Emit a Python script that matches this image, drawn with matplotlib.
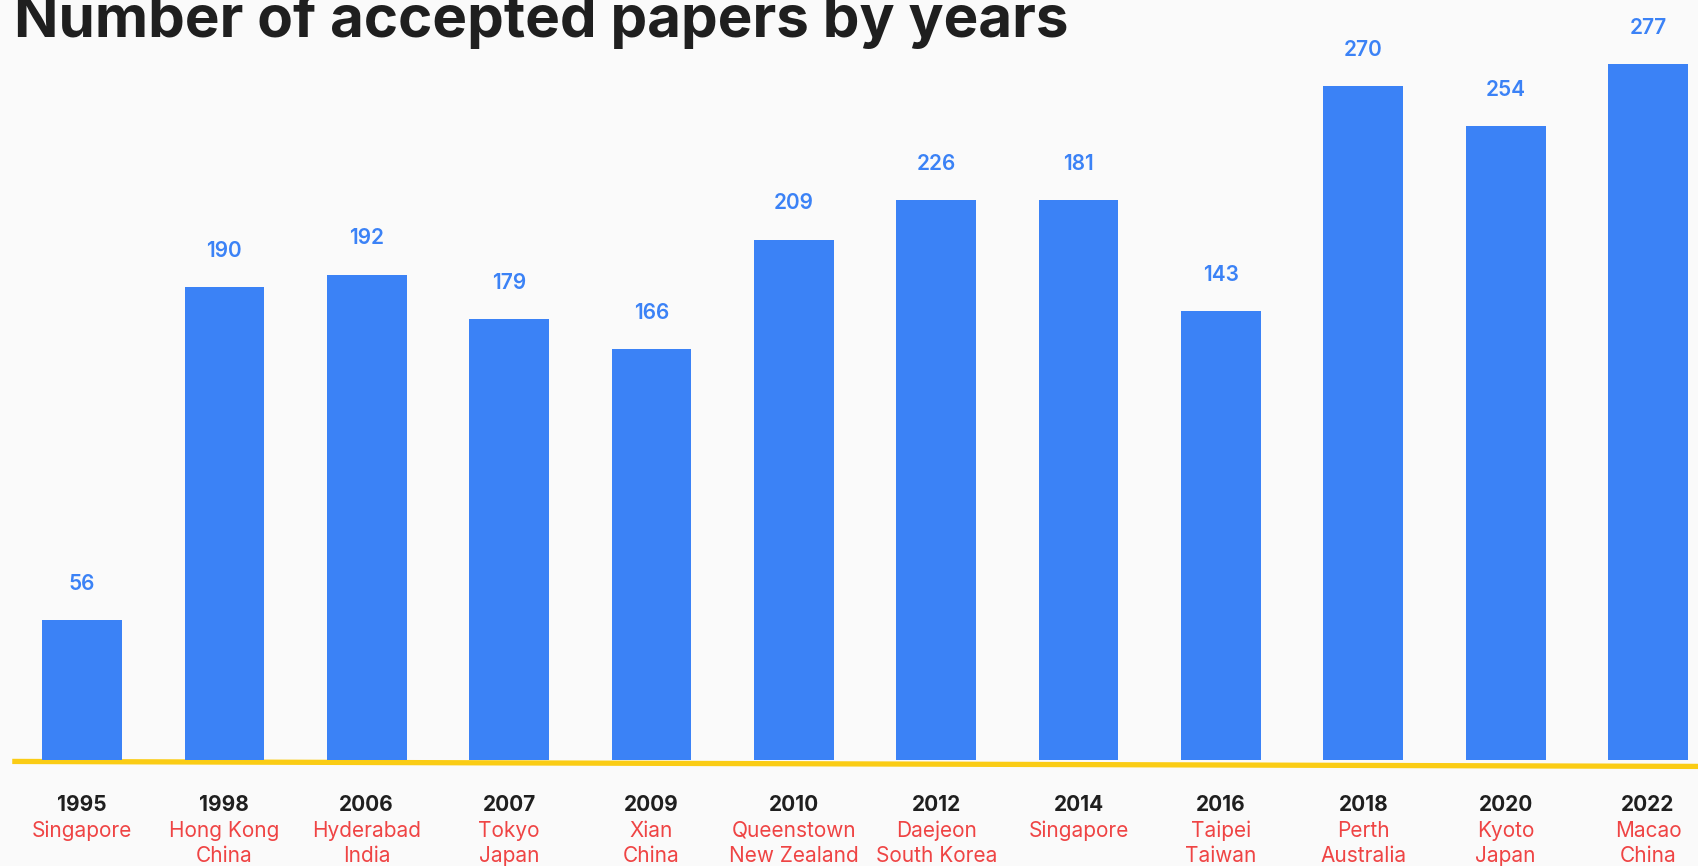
import matplotlib.pyplot as plt

years = ["1995", "1998", "2006", "2007", "2009", "2010",
         "2012", "2014", "2016", "2018", "2020", "2022"]
cities = ["Singapore", "Hong Kong", "Hyderabad", "Tokyo", "Xian", "Queenstown",
          "Daejeon", "Singapore", "Taipei", "Perth", "Kyoto", "Macao"]
countries = ["", "China", "India", "Japan", "China", "New Zealand",
             "South Korea", "", "Taiwan", "Australia", "Japan", "China"]
# label shown above each bar
papers = [56, 190, 192, 179, 166, 209, 226, 181, 143, 270, 254, 277]
# bar heights as drawn in the picture (2014 and 2016 bars don't match their labels)
bar_heights = [56, 189.5, 194.5, 176.5, 164.5, 208.5, 224.5, 224.5, 180, 270, 254, 279]

BLUE = "#3b82f6"
RED = "#ef4444"
YELLOW = "#facc15"
DARK = "#1f1f1f"

plt.rcParams['font.family'] = ['Inter', 'DejaVu Sans']

fig = plt.figure(figsize=(16.99, 8.66), dpi=100)
fig.patch.set_facecolor("#fafafa")
ax = fig.add_axes([0, 0, 1, 1])
ax.set_facecolor("#fafafa")

x = list(range(len(years)))
ax.set_xlim(-0.576, 11.358)
ax.set_ylim(-42.5, 304.5)

# sloping yellow baseline behind the bars
ax.plot([-0.49, 11.36], [-0.6, -2.6], color=YELLOW, lw=3.8,
        solid_capstyle="butt", zorder=1)
ax.bar(x, bar_heights, width=0.56, color=BLUE, zorder=2)

for i, h in enumerate(bar_heights):
    ax.annotate(str(papers[i]), (i, h), xytext=(0, 26), textcoords="offset points",
                ha="center", va="center", color=BLUE, fontsize=15,
                fontweight="semibold")
    ax.text(i, -18.2, years[i], ha="center", va="center", color=DARK,
            fontsize=15, fontweight="bold")
    ax.text(i, -28.3, cities[i], ha="center", va="center", color=RED,
            fontsize=15)
    if countries[i]:
        ax.text(i, -38.3, countries[i], ha="center", va="center", color=RED,
                fontsize=15)

ax.axis("off")

fig.text(0.008, 0.957, "Number of accepted papers by years", ha="left",
         va="baseline", color=DARK, fontsize=42, fontweight="bold")

fig.savefig("out.png", dpi=100, facecolor=fig.get_facecolor())
